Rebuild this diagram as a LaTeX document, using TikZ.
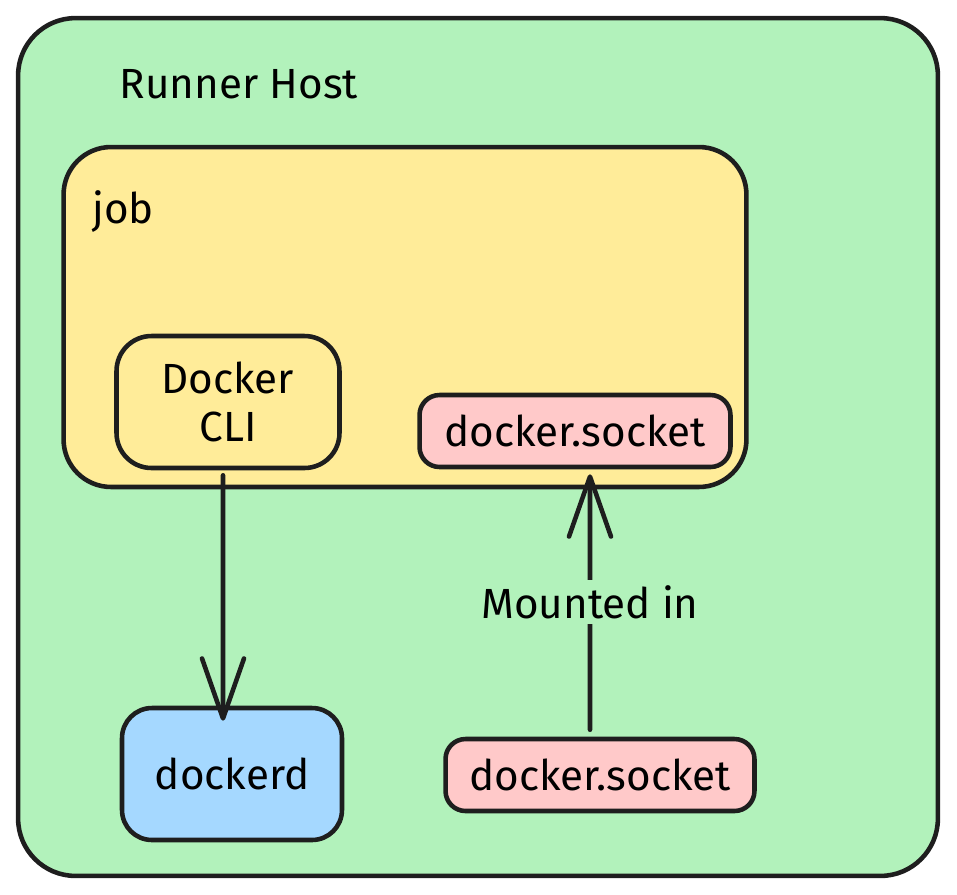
\documentclass[tikz,border=0pt]{standalone}
\usepackage{fontspec}
\setmainfont{Fira Sans}
\usetikzlibrary{arrows.meta,positioning}
\definecolor{hostgreen}{HTML}{B2F2BB}
\definecolor{jobyellow}{HTML}{FFEC99}
\definecolor{socketpink}{HTML}{FFC9C9}
\definecolor{daemonblue}{HTML}{A5D8FF}
\definecolor{inkblack}{HTML}{1E1E1E}

\begin{document}
\begin{tikzpicture}[x=0.02cm,y=-0.02cm,
  font=\fontsize{24}{27.5}\selectfont,
  box/.style={draw=inkblack,line width=2.6pt,rounded corners=#1,inner sep=0pt},
  box/.default=0.5cm,
  link/.style={draw=inkblack,line width=2.6pt,line cap=round,
    -{Straight Barb[length=1.2cm,width=0.84cm,round]}}]
\useasboundingbox (0,0) rectangle (957,894);
% containers
\node[box=1.15cm,fill=hostgreen,minimum width=18.4cm,minimum height=17.16cm] (host) at (478,447) {};
\node (hostlabel) at (239,84) {Runner Host};
\node[box=0.95cm,fill=jobyellow,minimum width=13.66cm,minimum height=6.8cm] (job) at (405,317) {};
\node (joblabel) at (123,212) {job};
% inside the job
\node[box=0.7cm,fill=jobyellow,minimum width=4.46cm,minimum height=2.64cm,align=center] (cli) at (228,402) {Docker\\CLI};
\node[box=0.4cm,fill=socketpink,minimum width=6.22cm,minimum height=1.44cm] (jobsocket) at (575,431) {docker.socket};
% on the host
\node[box=0.6cm,fill=daemonblue,minimum width=4.4cm,minimum height=2.64cm] (dockerd) at (232,774) {dockerd};
\node[box=0.4cm,fill=socketpink,minimum width=6.18cm,minimum height=1.44cm] (hostsocket) at (600,775) {docker.socket};
\draw[link] ([xshift=-0.1cm,yshift=-0.1cm]cli.south) -- ([xshift=-0.18cm,yshift=-0.3cm]dockerd.north);
\draw[link] ([xshift=-0.2cm,yshift=0.14cm]hostsocket.north) -- node[fill=hostgreen,inner sep=0.1cm] {Mounted in} ([xshift=0.3cm,yshift=-0.1cm]jobsocket.south);
\end{tikzpicture}
\end{document}
